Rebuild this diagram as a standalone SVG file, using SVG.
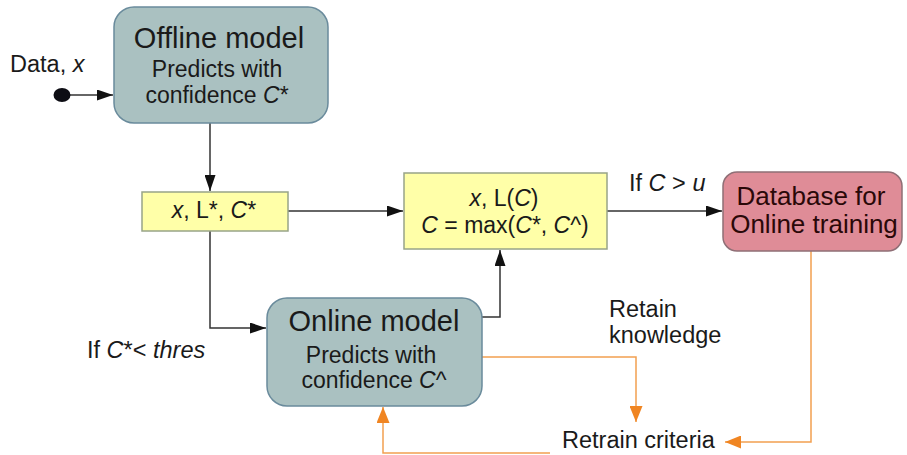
<svg xmlns="http://www.w3.org/2000/svg" width="907" height="455" viewBox="0 0 907 455">
  <style>
    text { font-family: "Liberation Sans", Arial, sans-serif; fill: #1a1a1a; }
    .model { fill: #aac1c1; stroke: #6a8b9c; stroke-width: 1.5; }
    .data { fill: #ffffa8; stroke: #98a488; stroke-width: 1.5; }
    .db { fill: #df8c97; stroke: #8f6f76; stroke-width: 1.5; }
    .title { font-size: 29px; text-anchor: middle; }
    .sub { font-size: 23px; text-anchor: middle; }
    .lbl { font-size: 23.5px; }
    .dbt { font-size: 26px; text-anchor: middle; fill: #2a0808; }
    .flow { fill: none; stroke: #333; stroke-width: 1.5; }
    .retrain { fill: none; stroke: #f2a050; stroke-width: 1.5; }
  </style>
  <defs>
    <marker id="arrowBlack" viewBox="0 0 16 11" refX="16" refY="5.5" markerWidth="16" markerHeight="11" markerUnits="userSpaceOnUse" orient="auto">
      <path d="M0,0 L16,5.5 L0,11 Z" fill="#111"/>
    </marker>
    <marker id="arrowOrange" viewBox="0 0 16 13" refX="16" refY="6.5" markerWidth="16" markerHeight="13" markerUnits="userSpaceOnUse" orient="auto">
      <path d="M0,0 L16,6.5 L0,13 Z" fill="#f08522"/>
    </marker>
  </defs>

  <rect width="907" height="455" fill="#ffffff"/>

  <!-- connectors -->
  <g id="connectors">
    <line class="flow" x1="68" y1="95" x2="113" y2="95" marker-end="url(#arrowBlack)"/>
    <line class="flow" x1="210" y1="123" x2="210" y2="191" marker-end="url(#arrowBlack)"/>
    <line class="flow" x1="288" y1="211" x2="403" y2="211" marker-end="url(#arrowBlack)"/>
    <line class="flow" x1="607" y1="211" x2="722" y2="211" marker-end="url(#arrowBlack)"/>
    <polyline class="flow" points="210,231 210,328 266,328" marker-end="url(#arrowBlack)"/>
    <polyline class="flow" points="482,317 500,317 500,250" marker-end="url(#arrowBlack)"/>
    <polyline class="retrain" points="482,357 636,357 636,422" marker-end="url(#arrowOrange)"/>
    <polyline class="retrain" points="811,251 811,442 725,442" marker-end="url(#arrowOrange)"/>
    <polyline class="retrain" points="550,453 383,453 383,407" marker-end="url(#arrowOrange)"/>
  </g>

  <!-- input -->
  <g id="input">
    <ellipse cx="62" cy="95" rx="8.5" ry="7" fill="#0d0d14"/>
    <text class="lbl" x="10" y="72">Data, <tspan font-style="italic">x</tspan></text>
  </g>

  <g id="offline-model">
    <rect class="model" x="114" y="7" width="214" height="116" rx="20"/>
    <text class="title" x="219" y="48">Offline model</text>
    <text class="sub" x="217" y="77">Predicts with</text>
    <text class="sub" x="217" y="103">confidence <tspan font-style="italic">C</tspan>*</text>
  </g>

  <g id="offline-output">
    <rect class="data" x="142" y="192" width="146" height="39"/>
    <text class="sub" x="214" y="218"><tspan font-style="italic">x</tspan>, L*, <tspan font-style="italic">C</tspan>*</text>
  </g>

  <g id="combined-output">
    <rect class="data" x="404" y="173" width="203" height="76"/>
    <text class="sub" x="504" y="206"><tspan font-style="italic">x</tspan>, L(<tspan font-style="italic">C</tspan>)</text>
    <text class="sub" x="505" y="233"><tspan font-style="italic">C</tspan> = max(<tspan font-style="italic">C</tspan>*, <tspan font-style="italic">C</tspan>^)</text>
  </g>

  <g id="database">
    <rect class="db" x="723" y="172" width="179" height="79" rx="14"/>
    <text class="dbt" x="811" y="205">Database for</text>
    <text class="dbt" x="814" y="233">Online training</text>
  </g>

  <g id="online-model">
    <rect class="model" x="267" y="298" width="215" height="108" rx="20"/>
    <text class="title" x="374" y="331" font-size="30">Online model</text>
    <text class="sub" x="371" y="363">Predicts with</text>
    <text class="sub" x="374" y="388">confidence <tspan font-style="italic">C</tspan>^</text>
  </g>

  <g id="retrain-criteria">
    <text class="lbl" x="562" y="448">Retrain criteria</text>
  </g>

  <!-- edge labels -->
  <g id="labels">
    <text class="lbl" x="629" y="191">If <tspan font-style="italic">C</tspan> &gt; <tspan font-style="italic">u</tspan></text>
    <text class="lbl" x="87" y="358">If <tspan font-style="italic">C</tspan>*&lt; <tspan font-style="italic">thres</tspan></text>
    <text class="lbl" x="609" y="317">Retain</text>
    <text class="lbl" x="609" y="343">knowledge</text>
  </g>
</svg>
